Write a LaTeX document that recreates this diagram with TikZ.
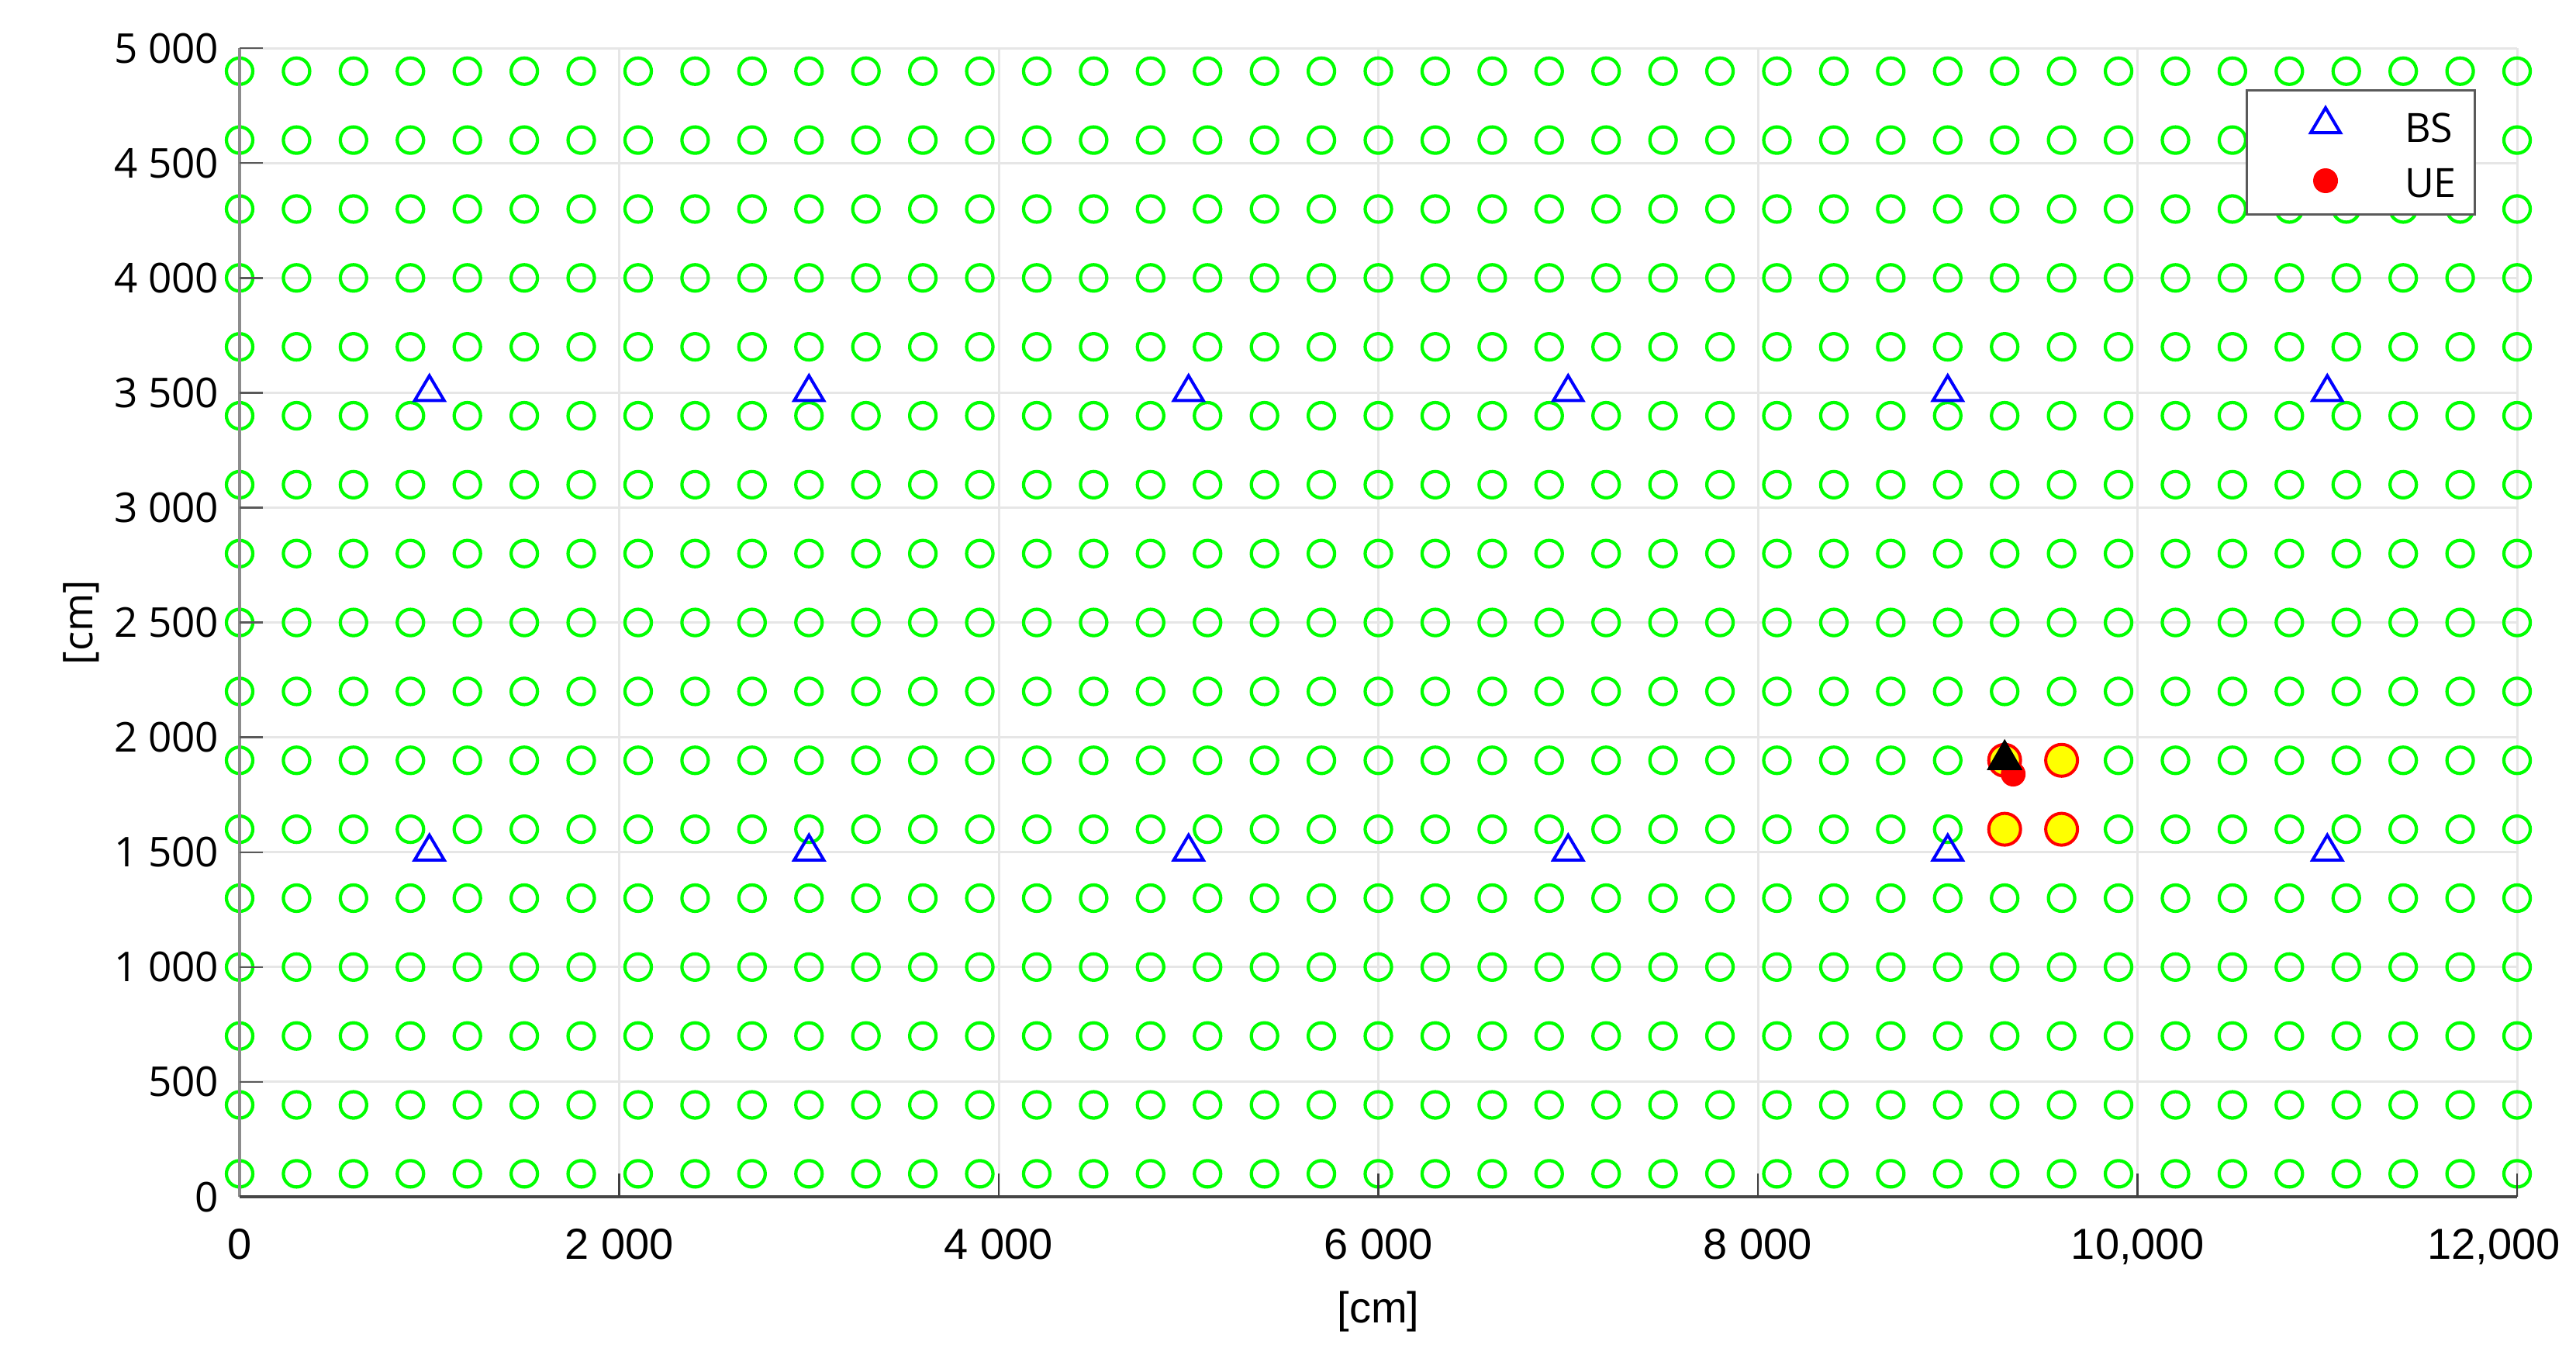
\documentclass[tikz,border=0pt]{standalone}
\usepackage{fontspec}
\setmainfont{Liberation Sans}
\newfontfamily\segoe{Open Sans}
\definecolor{mgreen}{RGB}{0,255,0}
\definecolor{mblue}{RGB}{0,0,255}
\definecolor{mred}{RGB}{255,0,0}
\definecolor{myellow}{RGB}{255,255,0}
\definecolor{gridgray}{RGB}{230,230,230}
\definecolor{leftaxis}{RGB}{140,140,140}
\definecolor{botaxis}{RGB}{70,70,70}
\definecolor{legframe}{RGB}{90,90,90}
\begin{document}
\begin{tikzpicture}[
  gridln/.style={line width=0.6pt, draw=gridgray},
  greenmk/.style={draw=mgreen, line width=0.85pt},
  yellowmk/.style={draw=mred, fill=myellow, line width=0.8pt},
  bsline/.style={draw=mblue, line width=0.8pt},
  bsmark/.pic={\draw[bsline] (0,4.4pt) -- (3.8pt,-2.0pt) -- (-3.8pt,-2.0pt) -- cycle;},
  blackmark/.pic={\fill[black] (0,5.5pt) -- (4.6pt,-2.5pt) -- (-4.6pt,-2.5pt) -- cycle;},
  ytick/.style={font=\segoe\fontsize{10.6}{12}\selectfont, anchor=base east, inner sep=0pt},
  xtick/.style={font=\fontsize{11.2}{13}\selectfont, anchor=base, inner sep=0pt},
  legtext/.style={font=\segoe\fontsize{10.4}{12}\selectfont, anchor=base west, inner sep=0pt}
]
\useasboundingbox (0,0) rectangle (664.4pt,349.2pt);
\begin{scope}[shift={(61.8pt,40.6pt)}, x=0.04895pt, y=0.05924pt]
  % grid
  \foreach \gx in {2000,4000,...,12000} \draw[gridln] (\gx,0) -- (\gx,5000);
  \foreach \gy in {500,1000,...,5000} \draw[gridln] (0,\gy) -- (12000,\gy);
  % green candidate points
  \foreach \gx in {0,300,...,12000}
    \foreach \gy in {100,400,...,4900}
      \draw[greenmk] (\gx,\gy) circle[radius=3.4pt];
  % base stations
  \foreach \gx in {1000,3000,...,11000}
    \foreach \gy in {1500,3500}
      \pic at (\gx,\gy) {bsmark};
  % highlighted points
  \foreach \px/\py in {9300/1900,9600/1900,9300/1600,9600/1600}
    \draw[yellowmk] (\px,\py) circle[radius=4.1pt];
  \fill[mred] (9345,1840) circle[radius=3.2pt];
  \pic at (9300,1900) {blackmark};
  % axes
  \draw[draw=leftaxis, line width=0.9pt] (0,0) -- (0,5000);
  \draw[draw=botaxis, line width=0.8pt] (0,0) -- (12000,0);
  \foreach \gy in {500,1000,...,5000} \draw[draw=black!65, line width=0.5pt] (0,\gy) -- ++(6pt,0);
  \foreach \gx in {2000,4000,...,12000} \draw[draw=black!75, line width=0.5pt] (\gx,0) -- ++(0,6pt);
  % y tick labels
  \foreach \v/\t in {0/0,500/500,1000/{1 000},1500/{1 500},2000/{2 000},2500/{2 500},3000/{3 000},3500/{3 500},4000/{4 000},4500/{4 500},5000/{5 000}}
    \node[ytick] (yl\v) at ([xshift=-5.2pt,yshift=-3.8pt]0,\v) {\t};
  % x tick labels
  \foreach \v/\t in {0/0,2000/{2 000},4000/{4 000},6000/{6 000},8000/{8 000},10000/{10,000}}
    \node[xtick] (xl\v) at ([yshift=-16pt]\v,0) {\t};
  \node[xtick] (xl12000) at ([xshift=-6pt,yshift=-16pt]12000,0) {12,000};
  % axis labels
  \node[font=\fontsize{11.2}{13}\selectfont, anchor=base, inner sep=0pt] (xlab) at ([yshift=-32.4pt]6000,0) {[cm]};
  \node[font=\segoe\fontsize{10.6}{12}\selectfont, rotate=90, anchor=center, inner sep=0pt] (ylab) at ([xshift=-40.8pt]0,2500) {[cm]};
\end{scope}
% legend
\node[draw=legframe, fill=white, line width=0.6pt, inner sep=0pt, minimum width=58.8pt, minimum height=32pt, anchor=south west] (legend) at (579.2pt,293.6pt) {};
\pic at (599.8pt,317pt) {bsmark};
\fill[mred] (599.8pt,302.6pt) circle[radius=3.2pt];
\node[legtext] (legbs) at (620pt,312.6pt) {BS};
\node[legtext] (legue) at (620pt,298.4pt) {UE};
\end{tikzpicture}
\end{document}
